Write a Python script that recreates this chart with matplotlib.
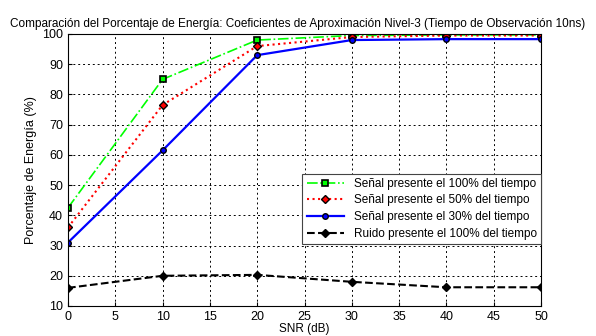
import matplotlib
matplotlib.use("Agg")
import matplotlib.pyplot as plt

plt.rcParams['font.family'] = ['Liberation Sans', 'DejaVu Sans']

snr = [0, 10, 20, 30, 40, 50]
s100 = [42.5, 85.0, 98.0, 99.5, 99.7, 99.7]
s50 = [36.0, 76.5, 96.0, 99.0, 99.5, 99.5]
s30 = [31.0, 61.5, 93.0, 98.0, 98.3, 98.3]
ruido = [16.0, 20.0, 20.3, 18.0, 16.2, 16.2]

labels = ["Señal presente el 100% del tiempo",
          "Señal presente el 50% del tiempo",
          "Señal presente el 30% del tiempo",
          "Ruido presente el 100% del tiempo"]

fig = plt.figure(figsize=(5.96, 3.36), dpi=100)
ax = fig.add_axes([68/596, 1-306/336, (541-68)/596, (306-34)/336])

ax.plot(snr, s100, '-.', color='#00ff00', lw=1.2, marker='s', ms=5,
        mfc='#00ff00', mec='black', mew=1.2, label=labels[0])
ax.plot(snr, s50, ':', color='red', lw=1.5, marker='D', ms=4,
        mfc='red', mec='black', mew=1.0, label=labels[1])
ax.plot(snr, s30, '-', color='blue', lw=1.6, marker='o', ms=4,
        mfc='blue', mec='black', mew=1.0, label=labels[2])
ax.plot(snr, ruido, '--', color='black', lw=1.5, marker='D', ms=4,
        mfc='black', mec='black', label=labels[3])

ax.set_xlim(0, 50)
ax.set_ylim(10, 100)
ax.set_xticks(range(0, 51, 5))
ax.set_yticks(range(10, 101, 10))
ax.grid(True, color='black', linestyle=(0, (2, 3)), lw=0.7)
ax.tick_params(direction='in', labelsize=9, length=3)
for s in ax.spines.values():
    s.set_linewidth(0.8)

fig.text(0.5, 1 - 24/336,
         "Comparación del Porcentaje de Energía: Coeficientes de Aproximación Nivel-3 (Tiempo de Observación 10ns)",
         fontsize=8.5, ha='center', va='center')
ax.set_xlabel("SNR (dB)", fontsize=8.5, labelpad=0)
ax.set_ylabel("Porcentaje de Energía (%)", fontsize=9)

leg = ax.legend(loc='lower right', bbox_to_anchor=(1.0, (306-244)/272),
                fontsize=8.5, fancybox=False, framealpha=1, edgecolor='#444444',
                borderpad=0.35, labelspacing=0.4, handlelength=3.2, borderaxespad=0.0)
leg.get_frame().set_linewidth(0.8)

fig.savefig("out.png", dpi=100)
